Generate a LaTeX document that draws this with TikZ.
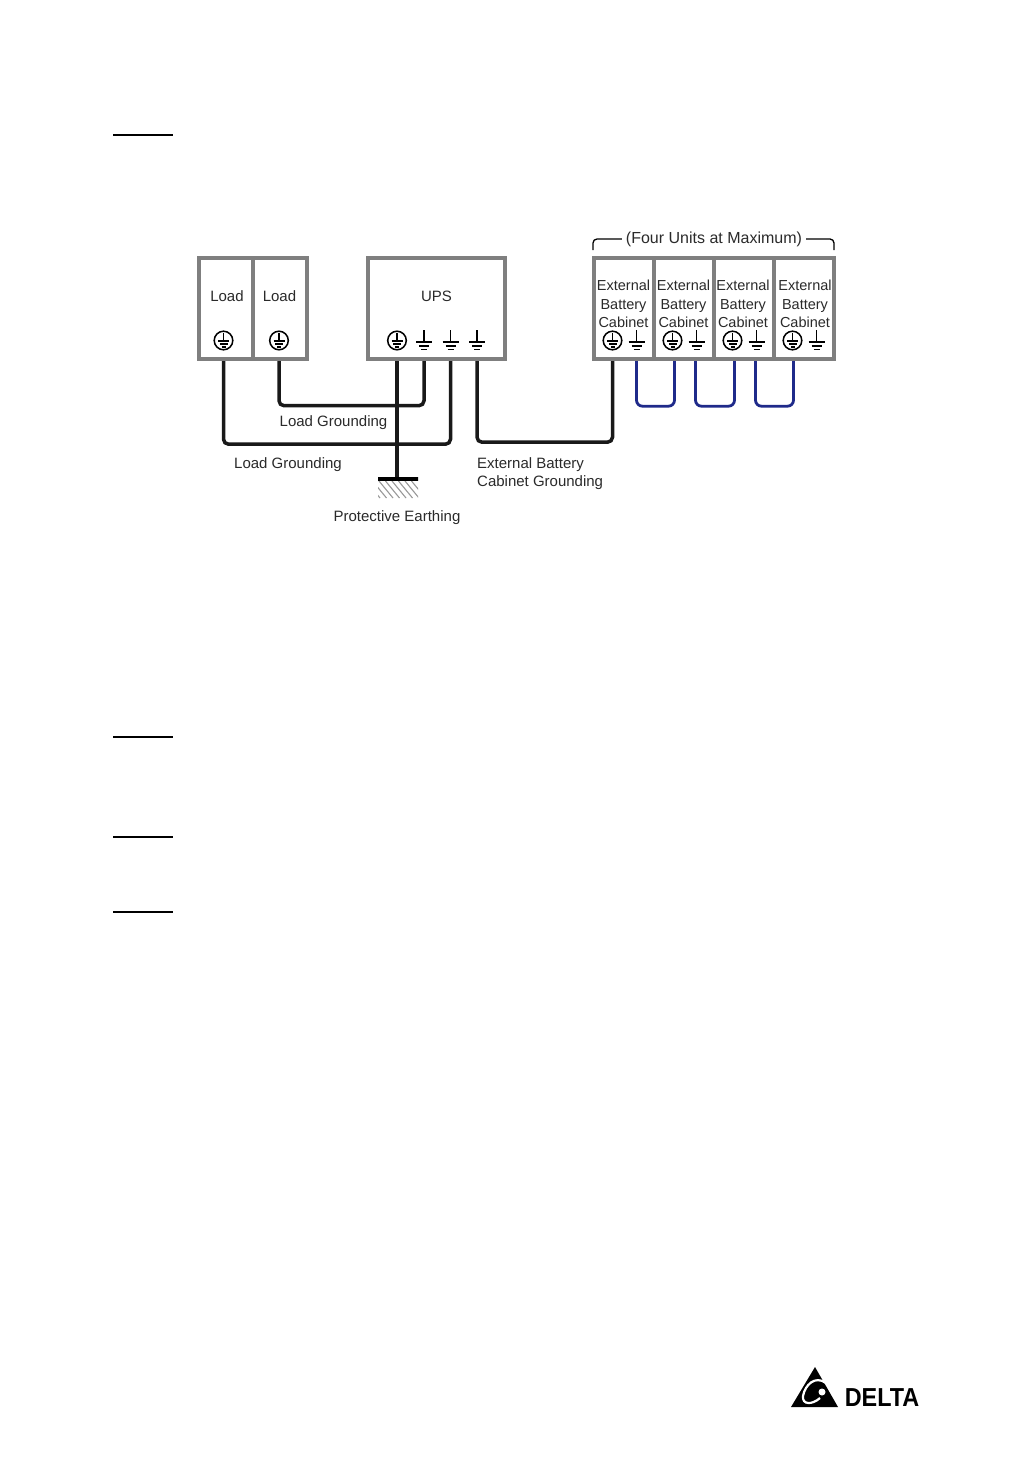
\documentclass[tikz,border=0pt]{standalone}
\usepackage{xcolor}
\usepackage{fontspec}
\setmainfont{Liberation Sans}
\definecolor{boxgray}{HTML}{7F7F7F}
\definecolor{loopblue}{HTML}{1F2A8A}
\definecolor{textgray}{HTML}{2A2A2A}
\tikzset{
  unit/.style={draw=boxgray, line width=4.4pt, rectangle, inner sep=0pt, minimum height=101pt},
  lbl/.style={text=textgray, inner sep=0pt, font=\fontsize{15}{18}\selectfont},
  cablbl/.style={lbl, align=center, font=\fontsize{14.5}{18.3}\selectfont},
  wire/.style={line width=3.5pt, black!90, rounded corners=5pt},
  bluewire/.style={line width=2.8pt, loopblue, rounded corners=6pt},
  gnd/.pic={
    \draw[line width=1.5pt] (0,-10) -- (0,2);
    \draw[line width=1.5pt] (-8,2) -- (8,2);
    \draw[line width=1.5pt] (-5,6) -- (5,6);
    \draw[line width=1.5pt] (-3,9.5) -- (3,9.5);
  },
  pegnd/.pic={
    \draw[line width=1.5pt] (0,0.5) circle (9.3);
    \draw[line width=1.2pt] (0,-7) -- (0,1);
    \draw[line width=1.2pt] (-5.5,1) -- (5.5,1);
    \draw[line width=1.2pt] (-4,4) -- (4,4);
    \draw[line width=1.2pt] (-2,7) -- (2,7);
  }
}

\begin{document}
\begin{tikzpicture}[x=1pt, y=-1pt]
  \useasboundingbox (0,0) rectangle (1032,1458);

  % margin rules
  \foreach \ypos in {135,737,837,912}
    \draw[line width=1.4pt] (113,\ypos) -- (173,\ypos);

  % boxes
  \node[unit, minimum width=54pt] (loada) at (226,308.5) {};
  \node[unit, minimum width=54pt] (loadb) at (280,308.5) {};
  \node[unit, minimum width=137pt] (ups) at (436.5,308.5) {};
  \foreach \n/\xpos in {a/624,b/684,c/744,d/804}
    \node[unit, minimum width=60pt] (cab\n) at (\xpos,308.5) {};

  \node[lbl] (loadatext) at (227,296) {Load};
  \node[lbl] (loadbtext) at (279.5,296) {Load};
  \node[lbl] (upstext) at (436.5,296) {UPS};
  \foreach \n/\xpos in {a/623.5,b/683.5,c/743,d/805}
    \node[cablbl] (cabtext\n) at (\xpos,304) {External\\Battery\\Cabinet};

  % ground symbols
  \foreach \n/\xpos in {loada/223.5,loadb/279,upsa/397,caba/612.5,cabb/672.5,cabc/732.5,cabd/792.5} {
    \coordinate (\n pe) at (\xpos,340);
    \pic at (\n pe) {pegnd};
  }
  \foreach \n/\xpos in {upsb/424,upsc/450.5,upsd/477,caba/636.5,cabb/696.5,cabc/756.5,cabd/816.5} {
    \coordinate (\n gnd) at (\xpos,340);
    \pic at (\n gnd) {gnd};
  }

  % earth
  \node[line width=4pt, draw, inner sep=0pt, minimum width=40pt, minimum height=0pt] (earth) at (398,478.5) {};
  \begin{scope}
    \clip (378,481) rectangle (418,498);
    \foreach \xpos in {366,372.5,379,385.5,392,398.5,405,411.5}
      \draw[boxgray!80, line width=1.1pt] (\xpos,481) -- (\xpos+14,498);
  \end{scope}

  % grounding wires
  \draw[wire] (loadape |- loada.south) -- ++(0,83) -| (upscgnd |- ups.south);
  \draw[wire] (loadbpe |- loadb.south) -- ++(0,44.5) -| (upsbgnd |- ups.south);
  \draw[wire, rounded corners=0pt] (upsape |- ups.south) -- (earth.north -| upsape);
  \draw[wire] (upsdgnd |- ups.south) -- ++(0,81) -| (cabape |- caba.south);

  % battery cabinet links
  \draw[bluewire] (cabagnd |- caba.south) -- ++(0,45) -| ([xshift=2pt]cabbpe |- cabb.south);
  \draw[bluewire] ([xshift=-1pt]cabbgnd |- cabb.south) -- ++(0,45) -| ([xshift=2pt]cabcpe |- cabc.south);
  \draw[bluewire] ([xshift=-1pt]cabcgnd |- cabc.south) -- ++(0,45) -| ([xshift=1pt]cabdpe |- cabd.south);

  % bracket
  \node[lbl, font=\fontsize{16}{18}\selectfont] (maxtext) at (714,239) {(Four Units at Maximum)};
  \draw[line width=1.3pt, rounded corners=4pt] (maxtext.west) ++(-4,0) -- (593,239) -- (593,250);
  \draw[line width=1.3pt, rounded corners=4pt] (maxtext.east) ++(4,0) -- (834,239) -- (834,250);

  % wire labels
  \node[lbl] (grounda) at (333.5,422.5) {Load Grounding};
  \node[lbl] (groundb) at (288,465) {Load Grounding};
  \node[lbl] (earthtext) at (397,517.5) {Protective Earthing};
  \node[lbl, anchor=west, align=left] (cabground) at (477,473.5) {External Battery\\Cabinet Grounding};

  % logo
  \fill (815,1367) -- (838,1407) -- (791,1407) -- cycle;
  \draw[white, line width=2.2pt] (826,1383) .. controls (815,1375) and (805,1385) .. (803,1396) .. controls (802,1405) and (812,1405) .. (820,1398);
  \fill[white] (822,1392) circle (3.5);
  \node[inner sep=0pt, font=\bfseries\fontsize{26}{26}\selectfont, xscale=0.9] (logo) at (882,1397.5) {DELTA};
\end{tikzpicture}
\end{document}
